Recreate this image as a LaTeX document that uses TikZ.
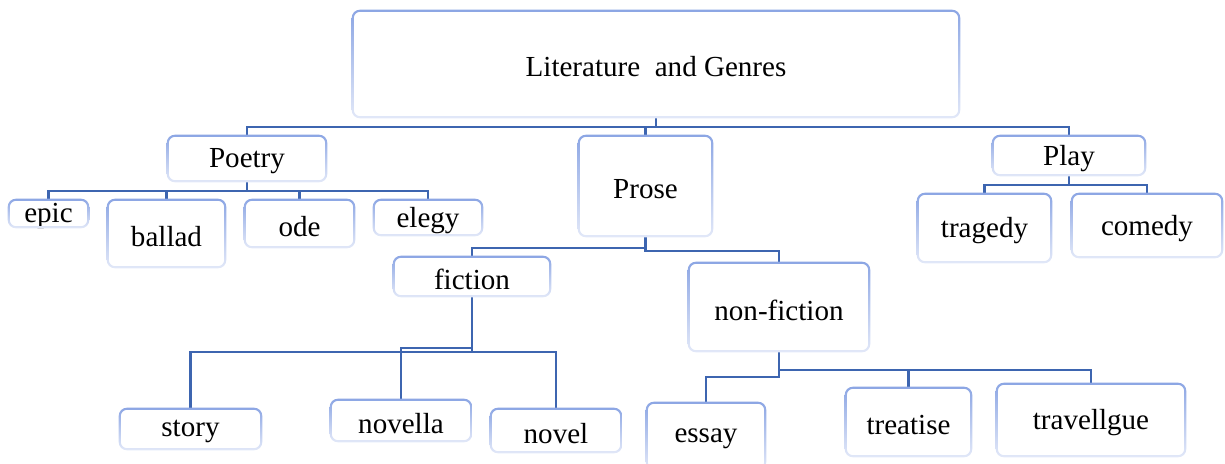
\documentclass[tikz,border=0pt]{standalone}
\usepackage{fontspec}
\setmainfont{Liberation Serif}
\definecolor{btop}{HTML}{8CA6E4}
\definecolor{bbot}{HTML}{E2E8F8}
\definecolor{conncol}{HTML}{3D65B0}
\newcommand{\bx}[6]{\node[box,minimum width={(#4-#2)*0.75pt},minimum height={(#5-#3)*0.75pt}] (#1) at ({(#2+#4)/2},{(#3+#5)/2}) {\raisebox{-2.2pt}[\height][\depth]{#6}};}
\newcommand{\gframe}[1]{%
  \shade[top color=btop, bottom color=bbot, even odd rule]
    [rounded corners=6pt] (#1.south west) rectangle (#1.north east)
    [rounded corners=4.5pt] ([shift={(1.6pt,1.6pt)}]#1.south west) rectangle ([shift={(-1.6pt,-1.6pt)}]#1.north east);}
\begin{document}
\begin{tikzpicture}[x=0.75pt,y=-0.75pt,
  box/.style={inner sep=0pt, font=\fontsize{21.8}{26}\selectfont},
  conn/.style={draw=conncol, line width=2.2pt}]
\useasboundingbox (0,0) rectangle (1225,464);
% nodes (pixel corners)
\bx{top}{352}{10}{960}{118}{Literature\ \ and Genres}
\bx{poetry}{167}{135}{327}{182}{Poetry}
\bx{prose}{578}{135}{713}{237}{Prose}
\bx{play}{992}{135}{1146}{176}{Play}
\bx{epic}{8}{199}{89}{228}{epic}
\bx{ballad}{107}{199}{226}{268}{ballad}
\bx{ode}{244}{199}{355}{248}{ode}
\bx{elegy}{373}{199}{483}{236}{elegy}
\bx{tragedy}{917}{193}{1052}{263}{tragedy}
\bx{comedy}{1071}{193}{1223}{258}{comedy}
\bx{fiction}{393}{256}{551}{297}{fiction}
\bx{nonfiction}{688}{262}{870}{352}{non-fiction}
\bx{story}{119}{408}{262}{450}{story}
\bx{novella}{330}{399}{472}{442}{novella}
\bx{novel}{490}{408}{622}{453}{novel}
\bx{essay}{646}{402}{766}{470}{essay}
\bx{treatise}{845}{387}{972}{457}{treatise}
\bx{travel}{996}{383}{1186}{457}{travellgue}
% level coordinates
\coordinate (l1) at (0,127);
\coordinate (lp) at (0,191);
\coordinate (lpl) at (0,185);
\coordinate (lfa) at (0,248);
\coordinate (lfb) at (0,251);
\coordinate (lfi) at (0,352);
\coordinate (lno) at (0,348);
\coordinate (lnf) at (0,370);
\coordinate (les) at (0,377);
% connectors
\draw[conn] (top.south) -- (top.south |- l1);
\draw[conn] (poetry.north) -- (poetry.north |- l1) -- (play.north |- l1) -- (play.north);
\draw[conn] (prose.north) -- (prose.north |- l1);
% poetry
\draw[conn] (poetry.south) -- (poetry.south |- lp);
\draw[conn] (epic.north) -- (epic.north |- lp) -- (elegy.north |- lp) -- (elegy.north);
\draw[conn] (ballad.north) -- (ballad.north |- lp);
\draw[conn] (ode.north) -- (ode.north |- lp);
% play
\draw[conn] (play.south) -- (play.south |- lpl);
\draw[conn] (tragedy.north) -- (tragedy.north |- lpl) -- (comedy.north |- lpl) -- (comedy.north);
% prose
\draw[conn] (prose.south) -- (prose.south |- lfb) -- (nonfiction.north |- lfb) -- (nonfiction.north);
\draw[conn] (prose.south |- lfa) -- (fiction.north |- lfa) -- (fiction.north);
% fiction
\draw[conn] (fiction.south) -- (fiction.south |- lfi);
\draw[conn] (story.north) -- (story.north |- lfi) -- (novel.north |- lfi) -- (novel.north);
\draw[conn] (fiction.south |- lno) -- (novella.north |- lno) -- (novella.north);
% non-fiction
\draw[conn] (nonfiction.south) -- (nonfiction.south |- les) -- (essay.north |- les) -- (essay.north);
\draw[conn] (nonfiction.south |- lnf) -- (travel.north |- lnf) -- (travel.north);
\draw[conn] (treatise.north) -- (treatise.north |- lnf);
% frames
\foreach \n in {top,poetry,prose,play,epic,ballad,ode,elegy,tragedy,comedy,fiction,nonfiction,story,novella,novel,essay,treatise,travel}
  {\gframe{\n}}
\end{tikzpicture}
\end{document}
